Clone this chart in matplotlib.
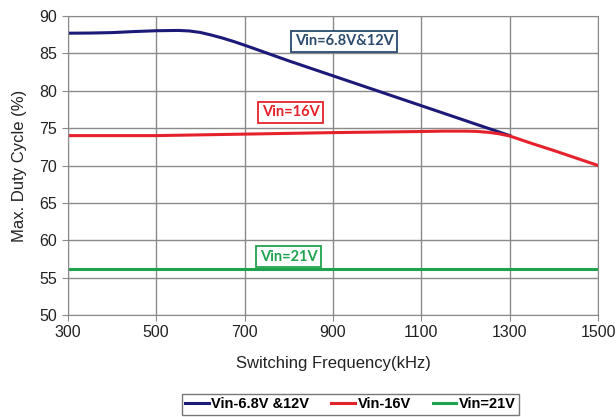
import matplotlib
matplotlib.use("Agg")
import matplotlib.pyplot as plt
import numpy as np

# Data
freq_blue = [300, 350, 400, 450, 500, 550, 575, 600, 625, 650, 675, 700, 750, 800, 900, 1000, 1100, 1200, 1300]
duty_blue = [87.7, 87.72, 87.78, 87.92, 88.03, 88.07, 88.0, 87.8, 87.45, 87.05, 86.6, 86.1, 85.05, 84.0, 82.0, 80.0, 78.0, 76.0, 74.0]
freq_red = [300, 500, 700, 900, 1100, 1150, 1200, 1225, 1250, 1275, 1300, 1350, 1400, 1500]
duty_red = [74.0, 74.0, 74.2, 74.4, 74.55, 74.6, 74.6, 74.56, 74.45, 74.25, 73.95, 72.95, 72.0, 70.0]
freq_green = [300, 500, 700, 900, 1100, 1300, 1500]
duty_green = [56.1, 56.1, 56.1, 56.1, 56.1, 56.1, 56.1]
xticks = [300, 500, 700, 900, 1100, 1300, 1500]
yticks = [50, 55, 60, 65, 70, 75, 80, 85, 90]
legend_labels = ["Vin-6.8V &12V", "Vin-16V", "Vin=21V"]
annot = ["Vin=6.8V&12V", "Vin=16V", "Vin=21V"]

c_blue = "#1c1a78"
c_red = "#e5222b"
c_green = "#1fa34e"

plt.rcParams['font.family'] = ['Liberation Sans', 'DejaVu Sans']
fig = plt.figure(figsize=(6.16, 4.17), dpi=100)
ax = fig.add_axes([0.110, 0.2446, 0.861, 0.717])

l1, = ax.plot(freq_blue, duty_blue, color=c_blue, lw=2.2, solid_joinstyle='round')
l2, = ax.plot(freq_red, duty_red, color=c_red, lw=2.2, solid_joinstyle='round')
l3, = ax.plot(freq_green, duty_green, color=c_green, lw=2.2)

ax.set_xlim(300, 1500)
ax.set_ylim(50, 90)
ax.set_xticks(xticks)
ax.set_yticks(yticks)
ax.grid(True, color="#8a8a8a", lw=1.0)
ax.set_axisbelow(True)
for s in ax.spines.values():
    s.set_color("#8a8a8a")
ax.tick_params(axis='both', labelsize=11.5, color="#8a8a8a", length=4, labelcolor="#222222")
ax.set_xlabel("Switching Frequency(kHz)", fontsize=12, labelpad=11, color="#222222")
ax.set_ylabel("Max. Duty Cycle (%)", fontsize=12, labelpad=9, color="#222222")

bfont = dict(family=['Lato', 'DejaVu Sans'], fontweight='bold', fontsize=10.5)
ax.text(925, 86.6, annot[0], color="#2a4a6e", ha='center', va='center',
        bbox=dict(boxstyle='square,pad=0.25', fc='white', ec="#2a4a6e", lw=1.3), **bfont)
ax.text(805, 77.1, annot[1], color=c_red, ha='center', va='center',
        bbox=dict(boxstyle='square,pad=0.25', fc='white', ec=c_red, lw=1.3), **bfont)
ax.text(800, 57.8, annot[2], color=c_green, ha='center', va='center',
        bbox=dict(boxstyle='square,pad=0.25', fc='white', ec=c_green, lw=1.3), **bfont)

leg = fig.legend([l1, l2, l3], legend_labels, loc='center', bbox_to_anchor=(0.569, 0.0305),
                 ncol=3, frameon=True, fancybox=False, edgecolor="#555555",
                 prop=dict(family='Liberation Sans', weight='bold', size=10.5),
                 handlelength=1.6, handletextpad=0.2, columnspacing=1.5,
                 borderpad=0.25)
leg.get_frame().set_linewidth(1.0)

fig.savefig("out.png", dpi=100)
